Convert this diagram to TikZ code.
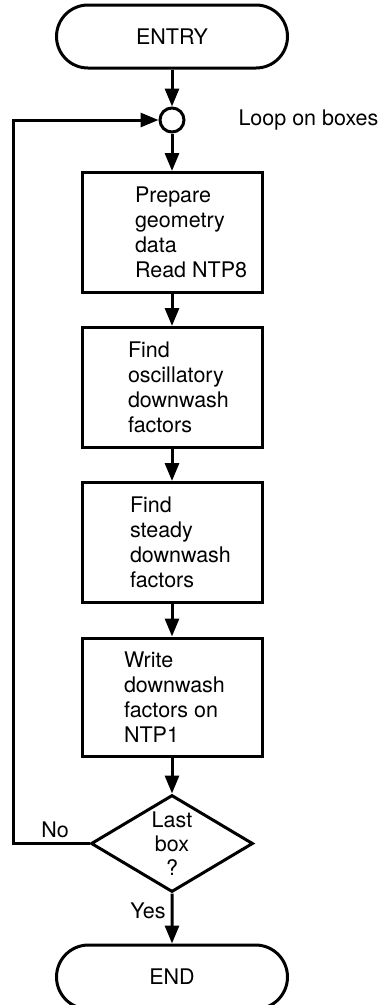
\documentclass[tikz,border=0pt]{standalone}
\usepackage{fontspec}
\setmainfont{TeX Gyre Heros}
\usetikzlibrary{arrows.meta,shapes.misc,shapes.geometric}
\begin{document}
\begin{tikzpicture}[x=1pt,y=-1pt, line width=3pt,
  every node/.style={font=\fontsize{21.5}{25}\selectfont},
  term/.style={draw, rounded rectangle, minimum width=231pt, minimum height=63pt, inner sep=0pt},
  proc/.style={draw, minimum width=180pt, minimum height=120pt, inner sep=0pt},
  dec/.style={draw, diamond, aspect=1.67, minimum width=162pt, minimum height=97pt, inner sep=0pt, align=center, font=\fontsize{21.5}{24}\selectfont},
  junc/.style={draw, circle, minimum size=24pt, inner sep=0pt},
  txt/.style={anchor=west, align=left, inner sep=0pt},
  arr/.style={-{Triangle[width=14pt,length=18pt]}}]
\useasboundingbox (0,0) rectangle (384,1005);

\node[term] (entry) at (172,36.5) {ENTRY};
\node[junc] (loop) at (172,120) {};
\node[anchor=west, inner sep=0pt] (looplbl) at (237,120) {Loop on boxes};

\node[proc] (b1) at (172,232.5) {};
\node[txt] (t1) at ([xshift=53pt]b1.west) {Prepare\\geometry\\data\\Read NTP8};
\node[proc] (b2) at (172,387.5) {};
\node[txt] (t2) at ([xshift=46pt]b2.west) {Find\\oscillatory\\downwash\\factors};
\node[proc] (b3) at (172,542.5) {};
\node[txt] (t3) at ([xshift=48pt]b3.west) {Find\\steady\\downwash\\factors};
\node[proc, minimum height=118pt] (b4) at (172,697) {};
\node[txt] (t4) at ([xshift=42pt]b4.west) {Write\\downwash\\factors on\\NTP1};

\node[dec] (dec) at (172,843.5) {Last\\box\\?};
\node[term, minimum height=64pt] (end) at (172,977) {END};
\coordinate (cl) at (13,843.5);

\draw[arr] (entry) -- (loop);
\draw[arr] (loop) -- (b1);
\draw[arr] (b1) -- (b2);
\draw[arr] (b2) -- (b3);
\draw[arr] (b3) -- (b4);
\draw[arr] (b4) -- (dec);
\draw[arr] (dec) -- node[left, pos=0.35, inner sep=5pt] (yes) {Yes} (end);
\draw[arr] (dec.west) -- node[above, pos=0.45, inner sep=4pt] (no) {No} (cl) |- (loop.west);
\end{tikzpicture}
\end{document}
